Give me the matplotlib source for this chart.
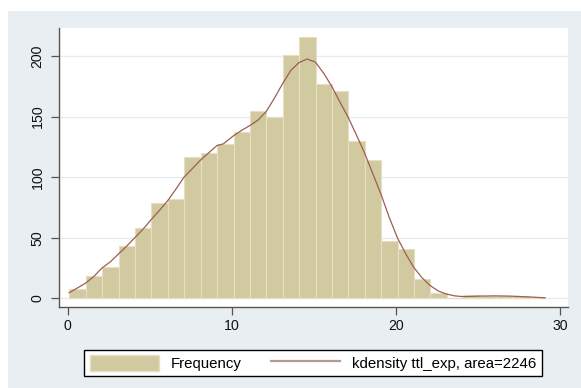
import matplotlib
matplotlib.use("Agg")
import matplotlib.pyplot as plt
from matplotlib.patches import Rectangle, Patch
from matplotlib.lines import Line2D
import numpy as np

plt.rcParams['font.family'] = ['Liberation Sans', 'DejaVu Sans']

# Histogram data (bin width 1, starting at the sample minimum)
bin_start = 0.115
bin_width = 1.0
frequency = [8, 18, 26, 43, 58, 79, 82, 117, 120, 127, 137, 155, 150, 201, 216,
             177, 171, 130, 114, 47, 41, 16, 4, 0, 3, 2, 2, 2, 1]

# kdensity curve (scaled to frequency)
kde_x = [0.1, 0.6, 1.1, 1.6, 2.1, 2.6, 3.1, 3.6, 4.1, 4.6, 5.1, 5.6, 6.1, 6.6, 7.1,
         7.6, 8.1, 8.6, 9.1, 9.5, 10.1, 10.6, 11.1, 11.6, 12.1, 12.6, 13.1, 13.6,
         14.1, 14.6, 15.1, 15.6, 16.1, 16.6, 17.1, 17.6, 18.1, 18.6, 19.1, 19.6,
         20.1, 20.6, 21.1, 21.6, 22.1, 22.6, 23.1, 23.6, 24.1, 25.0, 26.0, 27.0,
         28.0, 29.1]
kde_y = [4.6, 8.5, 12.5, 18, 25, 30, 36.5, 43, 50, 57, 65, 72.5, 80.5, 90, 100,
         107, 114, 120, 126, 127.5, 134, 138.5, 142.5, 147, 154, 165, 177, 188,
         194.5, 197.5, 195, 186, 175, 162, 149.5, 135, 120, 103, 86, 67,
         50, 37, 25.5, 17, 10.5, 6, 3.5, 2, 1.4, 1.8, 2.0, 1.8,
         1.2, 0.4]

yticks = [0, 50, 100, 150, 200]
xticks = [0, 10, 20, 30]

bar_color = '#D1C9A0'
bar_edge = '#E6DFC4'
line_color = '#9E5E52'
bg_color = '#E8EEF1'
grid_color = '#E3ECF0'

fig = plt.figure(figsize=(5.81, 3.88), dpi=100, facecolor='white')
bg = Rectangle((8 / 581, 0), 1 - 8 / 581, 1 - 11 / 388,
               transform=fig.transFigure, facecolor=bg_color,
               edgecolor='none', zorder=-10)
fig.patches.append(bg)

ax = fig.add_axes([59 / 581, 1 - 306.7 / 388, (568 - 59) / 581, (306.7 - 28) / 388])
ax.set_zorder(1)
ax.set_facecolor('white')

lefts = [bin_start + i * bin_width for i in range(len(frequency))]
ax.bar(lefts, frequency, width=bin_width, align='edge', color=bar_color,
       edgecolor=bar_edge, linewidth=0.8, zorder=2)
ax.plot(kde_x, kde_y, color=line_color, linewidth=0.9, zorder=3)

ax.set_xlim(-0.52, 30.5)
ax.set_ylim(-6.93, 223.1)
ax.set_yticks(yticks)
ax.set_xticks(xticks)
ax.set_yticklabels([str(v) for v in yticks], rotation=90, va='center')
ax.yaxis.grid(True, color=grid_color, linewidth=1.0, zorder=1)
ax.set_axisbelow(True)

for s in ['top', 'right']:
    ax.spines[s].set_visible(False)
for s in ['left', 'bottom']:
    ax.spines[s].set_color('#555555')
    ax.spines[s].set_linewidth(1.0)

ax.tick_params(axis='both', direction='out', length=5.5, width=0.9,
               color='#555555', labelsize=10.2, labelcolor='#111111')
ax.tick_params(axis='y', pad=5)
ax.tick_params(axis='x', pad=3)

handles = [Patch(facecolor=bar_color, edgecolor=bar_edge),
           Line2D([0], [0], color='#B89A92', linewidth=1.6)]
labels = ['Frequency', 'kdensity ttl_exp, area=2246']
leg = fig.legend(handles, labels, loc='center',
                 bbox_to_anchor=((86.3 + 540) / 2 / 581, 1 - 363 / 388),
                 ncol=2, frameon=True, fancybox=False, fontsize=10.8,
                 handlelength=4.6, handleheight=1.3, columnspacing=2.0,
                 handletextpad=0.8, borderpad=0.35, edgecolor='black',
                 facecolor='white', framealpha=1)
leg.get_frame().set_linewidth(1.0)

fig.savefig('out.png', dpi=100, facecolor='white')
